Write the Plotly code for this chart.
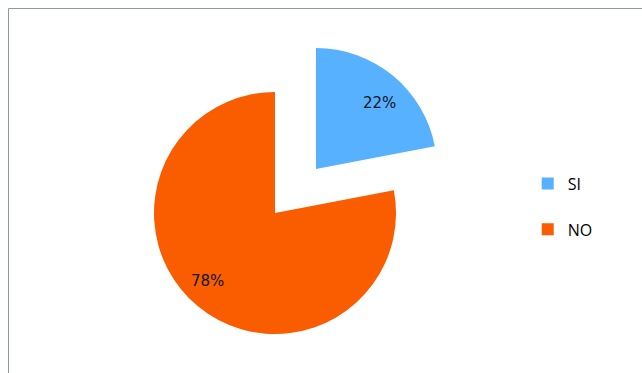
import plotly.graph_objects as go

# ---- data ----
labels = ["SI", "NO"]
values = [22, 78]
colors = ["#58B1FE", "#F95D00"]

W, H = 642, 373
total = sum(values)
pct_text = [f"{round(v / total * 100)}%" for v in values]

R = 121
# pie centres in pixels (layout only)
no_c = (275, 213)
si_c = (316, 169)
# label anchor positions in pixels (layout only)
lbl_pos = [(380, 103), (207, 281)]


def dom(c):
    cx, cy = c
    cyb = H - cy
    return dict(x=[(cx - R) / W, (cx + R) / W], y=[(cyb - R) / H, (cyb + R) / H])


transparent = "rgba(0,0,0,0)"

fig = go.Figure()

# legend-only tiny pies (hidden under the NO slice), one per label
for i, (lab, col) in enumerate(zip(labels, colors)):
    fig.add_trace(go.Pie(
        labels=[lab], values=[values[i]], marker=dict(colors=[col], line=dict(width=0)),
        domain=dict(x=[0.40, 0.4005], y=[0.40, 0.4005]), textinfo="none",
        hoverinfo="skip", sort=False, showlegend=True, legendgroup=f"g{i}",
    ))

# NO slice (centre position)
fig.add_trace(go.Pie(
    labels=labels, values=values, sort=False, direction="clockwise", rotation=0,
    marker=dict(colors=[transparent, colors[1]], line=dict(width=0)),
    textinfo="none", domain=dom(no_c), showlegend=False, hoverinfo="label+percent",
))

# SI slice (exploded)
fig.add_trace(go.Pie(
    labels=labels, values=values, sort=False, direction="clockwise", rotation=0,
    marker=dict(colors=[colors[0], transparent], line=dict(width=0)),
    textinfo="none", domain=dom(si_c), showlegend=False, hoverinfo="label+percent",
))

annotations = [
    dict(x=px / W, y=1 - py / H, xref="paper", yref="paper", text=t, showarrow=False,
         xanchor="center", yanchor="middle",
         font=dict(family="DejaVu Sans", size=15, color="#0E1624"))
    for (px, py), t in zip(lbl_pos, pct_text)
]

border = "#8C9C98"
fig.update_layout(
    width=W, height=H,
    margin=dict(l=0, r=0, t=0, b=0),
    paper_bgcolor="white", plot_bgcolor="white",
    legend=dict(x=0.822, y=0.446, xanchor="left", yanchor="middle",
                font=dict(family="Open Sans", size=16, color="#000"),
                tracegroupgap=22, bgcolor="rgba(0,0,0,0)"),
    annotations=annotations,
    shapes=[
        dict(type="line", xref="paper", yref="paper", x0=8.5 / W, x1=1, y0=1 - 8.5 / H, y1=1 - 8.5 / H,
             line=dict(color=border, width=1)),
        dict(type="line", xref="paper", yref="paper", x0=8.5 / W, x1=8.5 / W, y0=0, y1=1 - 8.5 / H,
             line=dict(color=border, width=1)),
    ],
)

fig.write_html("out.html")
